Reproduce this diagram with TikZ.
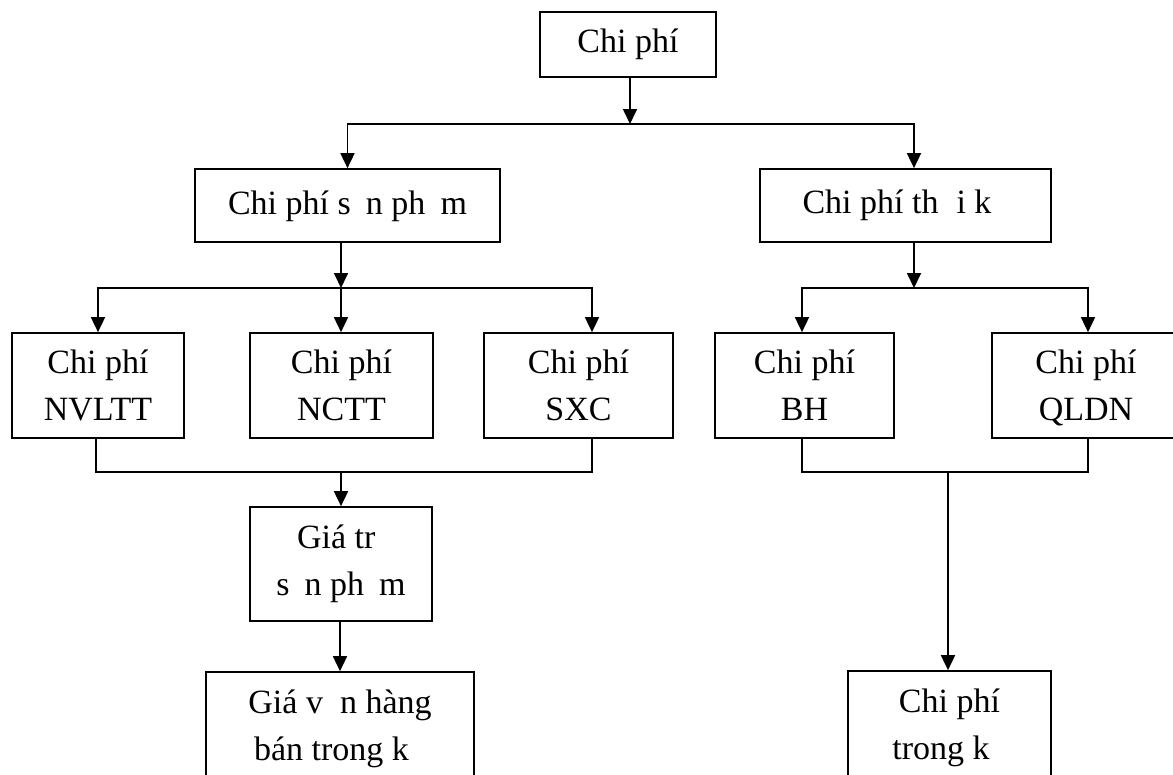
\documentclass[tikz,border=0pt]{standalone}
\usepackage{fontspec}
\setmainfont{Liberation Serif}
\usetikzlibrary{arrows.meta}

\begin{document}
\begin{tikzpicture}[x=1pt,y=-1pt,
    box/.style={draw, line width=1.7pt, inner sep=0pt, align=center,
                font=\fontsize{34}{47}\selectfont},
    link/.style={line width=1.7pt},
    arr/.style={line width=1.7pt, -{Triangle[length=15pt,width=14pt]}}]
  \useasboundingbox (0,0) rectangle (1173,774);
  \clip (0,0) rectangle (1173,774);

  % top level
  \node[box, minimum width=176pt, minimum height=65pt] (top) at (628,44.5) {Chi phí};

  % second level
  \node[box, minimum width=305pt, minimum height=73pt] (sp) at (347.5,205.5)
       {Chi phí s\phantom{ả}n ph\phantom{ẩ}m};
  \node[box, minimum width=291pt, minimum height=73pt] (tk) at (905.5,205.5)
       {Chi phí th\phantom{ờ}i k\phantom{ỳ}};

  % cost elements
  \node[box, minimum width=172pt, minimum height=105pt] (nvl) at (98,385.5)  {Chi phí\\NVLTT};
  \node[box, minimum width=183pt, minimum height=105pt] (nc)  at (341.5,385.5) {Chi phí\\NCTT};
  \node[box, minimum width=189pt, minimum height=105pt] (sxc) at (578.5,385.5) {Chi phí\\SXC};
  \node[box, minimum width=179pt, minimum height=105pt] (bh)  at (804.5,385.5) {Chi phí\\BH};
  \node[box, minimum width=188pt, minimum height=105pt] (ql)  at (1086,385.5)
       {Chi phí\\\raisebox{0pt}[\height][0pt]{QLDN}};

  % product value and period results
  \node[box, minimum width=182pt, minimum height=114pt] (gtr) at (341,564)
       {Giá tr\phantom{ị}\\s\phantom{ả}n ph\phantom{ẩ}m};
  \node[box, minimum width=268pt, minimum height=112pt] (gv) at (340,728)
       {Giá v\phantom{ố}n hàng\\bán trong k\phantom{ỳ}};
  \node[box, minimum width=203pt, minimum height=114pt] (ck) at (949.5,728)
       {Chi phí\\trong k\phantom{ỳ}};

  % junction points
  \coordinate (j1) at (630,124);
  \coordinate (j2) at (341,288);
  \coordinate (j3) at (341,472);
  \coordinate (j4) at (914,288);
  \coordinate (j5) at (948,472);

  % top split
  \draw[arr] (top.south -| j1) -- (j1);
  \draw[arr] (j1) -| (sp.north);
  \draw[arr] (j1) -| ([xshift=8.5pt]tk.north);

  % product costs
  \draw[arr] (sp.south -| j2) -- (j2);
  \draw[arr] (j2) -| (nvl.north);
  \draw[arr] (j2) -- (nc.north -| j2);
  \draw[arr] (j2) -| ([xshift=13.5pt]sxc.north);
  \draw[link] ([xshift=-2pt]nvl.south) |- (j3) -| ([xshift=13.5pt]sxc.south);
  \draw[arr] (j3) -- (gtr.north -| j3);
  \draw[arr] (gtr.south -| gv.north) -- (gv.north);

  % period costs
  \draw[arr] ([xshift=8.5pt]tk.south) -- (j4);
  \draw[arr] (j4) -| ([xshift=-2.5pt]bh.north);
  \draw[arr] (j4) -| ([xshift=2pt]ql.north);
  \draw[link] ([xshift=-2.5pt]bh.south) |- (j5) -| ([xshift=2pt]ql.south);
  \draw[arr] (j5) -- (ck.north -| j5);
\end{tikzpicture}
\end{document}
